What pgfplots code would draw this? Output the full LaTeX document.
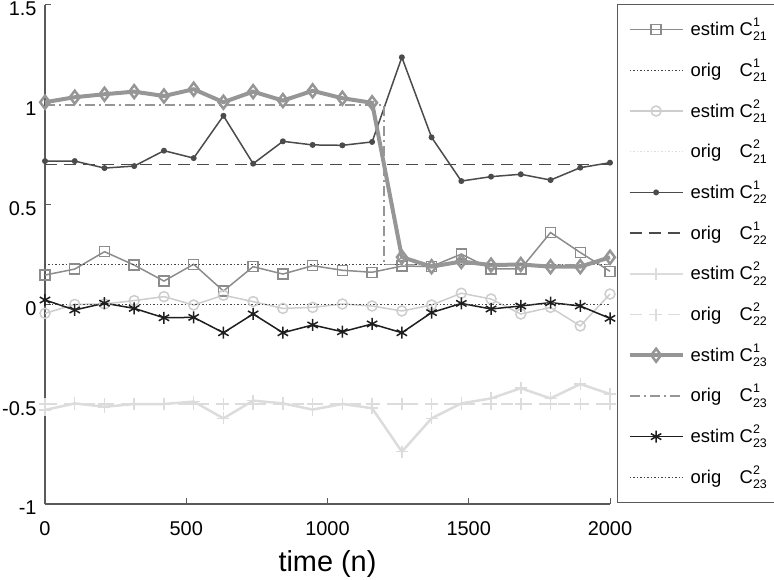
\documentclass[border=0pt]{standalone}
\usepackage{fontspec}
\setmainfont{Liberation Sans}
\usepackage{pgfplots}
\pgfplotsset{compat=1.18}
\definecolor{cA}{RGB}{140,140,140}
\definecolor{cB}{RGB}{70,70,70}
\definecolor{cL}{RGB}{205,205,205}
\definecolor{cLL}{RGB}{220,220,220}
\definecolor{cD}{RGB}{75,75,75}
\definecolor{cT}{RGB}{150,150,150}
\definecolor{cK}{RGB}{30,30,30}
\definecolor{axc}{RGB}{90,90,90}
\newcommand{\Cs}[2]{C\rlap{\raisebox{9bp}{\fontsize{12.5}{12.5}\selectfont #1}}\raisebox{-5.3bp}{\fontsize{12.5}{12.5}\selectfont #2}}
\newcommand{\est}{\makebox[2.389em][l]{estim}}
\newcommand{\orig}{\makebox[2.389em][l]{orig}}
\begin{document}
\begin{tikzpicture}
\begin{axis}[
  scale only axis,
  width=565bp, height=499bp,
  xmin=0, xmax=2000, ymin=-1, ymax=1.5,
  axis x line*=bottom, axis y line*=left,
  axis line style={axc, line width=1.2bp},
  tick style={axc, line width=1bp},
  tick align=inside, major tick length=6bp,
  xtick={0,500,1000,1500,2000},
  xticklabels={0,500,1000,1500,2000},
  ytick={-1,-0.5,0,0.5,1,1.5},
  yticklabels={-1,-0.5,0,0.5,1,1.5},
  ticklabel style={font=\fontsize{20}{21}\selectfont},
  xticklabel style={yshift=-14bp},
  yticklabel style={xshift=-5bp, yshift=-4bp},
  xlabel={time (n)},
  xlabel style={font=\fontsize{29}{30}\selectfont, yshift=-8bp},
  clip=false,
  legend image code/.code={\draw[mark repeat=2,mark phase=2,#1] plot coordinates {(0bp,0bp) (26.5bp,0bp) (53bp,0bp)};},
  legend style={at={(1,1)}, anchor=north west, xshift=7bp, yshift=1bp,
    draw=axc, line width=1.2bp, font=\fontsize{18.5}{19}\selectfont,
    nodes={inner xsep=0pt, inner ysep=0pt, text height=21bp, text depth=9bp},
    row sep=10.7bp, inner xsep=10bp, inner ysep=10bp,
    /tikz/every odd column/.append style={column sep=6bp}},
  legend cell align=left,
]
% C21^1 estim
\addplot[cA, line width=1.5bp, mark=square, mark size=5bp, mark options={solid}] coordinates {
(0,0.147)(105.3,0.177)(210.5,0.264)(315.8,0.197)(421.1,0.117)(526.3,0.201)(631.6,0.067)(736.8,0.189)(842.1,0.152)(947.4,0.194)(1052.6,0.171)(1157.9,0.161)(1263.2,0.192)(1368.4,0.19)(1473.7,0.252)(1578.9,0.178)(1684.2,0.178)(1789.5,0.36)(1894.7,0.26)(2000,0.166)};
\addlegendentry{\est\ \Cs{1}{21}}
\addplot[cB, line width=1.5bp, dotted] coordinates {(0,0.2)(2000,0.2)};
\addlegendentry{\orig\ \Cs{1}{21}}
% C21^2 estim
\addplot[cL, line width=1.5bp, mark=o, mark size=5bp, mark options={solid}] coordinates {
(0,-0.045)(105.3,0.0)(210.5,0.002)(315.8,0.019)(421.1,0.039)(526.3,-0.003)(631.6,0.046)(736.8,0.014)(842.1,-0.02)(947.4,-0.015)(1052.6,0.002)(1157.9,-0.008)(1263.2,-0.033)(1368.4,-0.003)(1473.7,0.056)(1578.9,0.027)(1684.2,-0.048)(1789.5,-0.015)(1894.7,-0.108)(2000,0.052)};
\addlegendentry{\est\ \Cs{2}{21}}
\addplot[cLL, line width=1.5bp, dotted] coordinates {(0,0)(2000,0)};
\addlegendentry{\orig\ \Cs{2}{21}}
% C22^1 estim
\addplot[cD, line width=1.5bp, mark=*, mark size=2.2bp, mark options={solid}] coordinates {
(0,0.718)(105.3,0.718)(210.5,0.683)(315.8,0.693)(421.1,0.770)(526.3,0.733)(631.6,0.945)(736.8,0.705)(842.1,0.817)(947.4,0.799)(1052.6,0.797)(1157.9,0.814)(1263.2,1.238)(1368.4,0.837)(1473.7,0.618)(1578.9,0.64)(1684.2,0.652)(1789.5,0.623)(1894.7,0.685)(2000,0.71)};
\addlegendentry{\est\ \Cs{1}{22}}
\addplot[cD, line width=1.5bp, dash pattern=on 12bp off 7bp] coordinates {(0,0.7)(2000,0.7)};
\addlegendentry{\orig\ \Cs{1}{22}}
% C22^2 estim
\addplot[cLL, line width=2.5bp, mark=+, mark size=6bp, mark options={solid, line width=1.5bp}] coordinates {
(0,-0.529)(105.3,-0.496)(210.5,-0.513)(315.8,-0.499)(421.1,-0.499)(526.3,-0.487)(631.6,-0.571)(736.8,-0.482)(842.1,-0.496)(947.4,-0.527)(1052.6,-0.499)(1157.9,-0.52)(1263.2,-0.738)(1368.4,-0.571)(1473.7,-0.496)(1578.9,-0.471)(1684.2,-0.42)(1789.5,-0.471)(1894.7,-0.399)(2000,-0.449)};
\addlegendentry{\est\ \Cs{2}{22}}
\addplot[cLL, line width=1.5bp, dash pattern=on 12bp off 7bp, mark=+, mark size=6bp, mark options={solid}] coordinates {
(0,-0.5)(105.3,-0.5)(210.5,-0.5)(315.8,-0.5)(421.1,-0.5)(526.3,-0.5)(631.6,-0.5)(736.8,-0.5)(842.1,-0.5)(947.4,-0.5)(1052.6,-0.5)(1157.9,-0.5)(1263.2,-0.5)(1368.4,-0.5)(1473.7,-0.5)(1578.9,-0.5)(1684.2,-0.5)(1789.5,-0.5)(1894.7,-0.5)(2000,-0.5)};
\addlegendentry{\orig\ \Cs{2}{22}}
% C23^1 estim
\addplot[cT, line width=4bp, mark=diamond, mark size=6.5bp, mark options={solid, line width=2.5bp}] coordinates {
(0,1.013)(105.3,1.038)(210.5,1.053)(315.8,1.066)(421.1,1.044)(526.3,1.078)(631.6,1.013)(736.8,1.066)(842.1,1.021)(947.4,1.07)(1052.6,1.033)(1157.9,1.01)(1263.2,0.237)(1368.4,0.189)(1473.7,0.215)(1578.9,0.197)(1684.2,0.2)(1789.5,0.189)(1894.7,0.189)(2000,0.236)};
\addlegendentry{\est\ \Cs{1}{23}}
\addplot[cT, line width=1.5bp, dash pattern=on 10bp off 4bp on 2bp off 4bp] coordinates {(0,1)(1200,1)(1200,0.2)(2000,0.2)};
\addlegendentry{\orig\ \Cs{1}{23}}
% C23^2 estim
\addplot[cK, line width=1.5bp, mark=asterisk, mark size=6bp, mark options={solid}] coordinates {
(0,0.022)(105.3,-0.028)(210.5,0.006)(315.8,-0.02)(421.1,-0.067)(526.3,-0.065)(631.6,-0.142)(736.8,-0.048)(842.1,-0.142)(947.4,-0.103)(1052.6,-0.137)(1157.9,-0.098)(1263.2,-0.142)(1368.4,-0.041)(1473.7,0.005)(1578.9,-0.023)(1684.2,-0.008)(1789.5,0.009)(1894.7,-0.008)(2000,-0.07)};
\addlegendentry{\est\ \Cs{2}{23}}
\addplot[cB, line width=1.5bp, dotted] coordinates {(0,0)(2000,0)};
\addlegendentry{\orig\ \Cs{2}{23}}
\end{axis}
\pgfresetboundingbox
\path (current axis.south west) ++(-45bp,-76bp) rectangle ++(774bp,580bp);
\end{tikzpicture}
\end{document}
